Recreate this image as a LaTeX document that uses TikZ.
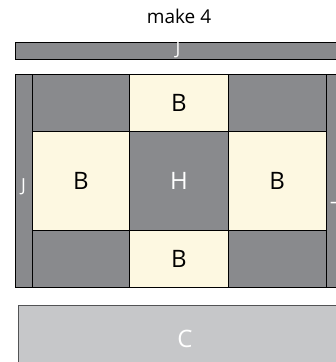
\documentclass[tikz,border=0pt]{standalone}
\usepackage{fontspec}
\setmainfont{Open Sans}
\definecolor{darkcell}{HTML}{898A8D}
\definecolor{lightcell}{HTML}{FDF8E1}
\definecolor{basecell}{HTML}{C6C7C9}
\tikzset{
  cell/.style={draw=black, line width=.8pt, inner sep=0pt, outer sep=0pt},
  dark/.style={cell, fill=darkcell, text=white},
  cream/.style={cell, fill=lightcell, text=black},
  jlabel/.style={text=white, inner sep=0pt, font=\fontsize{18}{21}\selectfont},
}
\begin{document}
\begin{tikzpicture}[x=1pt,y=-1pt, font=\fontsize{24}{28}\selectfont]
\useasboundingbox (0,0) rectangle (336,362);
\clip (0,0) rectangle (336,362);
\node[font=\fontsize{19}{22}\selectfont] (title) at (179,16) {make 4};
\node[dark, minimum width=331pt, minimum height=17pt] (top) at (180.6,50.8) {};
\node[jlabel] (topj) at (178,50) {J};
\node[dark, minimum width=16.7pt, minimum height=212.6pt] (left) at (23.6,181) {};
\node[jlabel] (leftj) at (23.6,187) {J};
\node[dark, minimum width=20pt, minimum height=212.6pt] (right) at (336,181) {};
\node[jlabel, rotate=90] (rightj) at (339,203) {J};
\node[dark, minimum width=97.7pt, minimum height=57pt] (tl) at (80.8,103.2) {};
\node[cream, minimum width=98.6pt, minimum height=57pt] (tm) at (179,103.2) {B};
\node[dark, minimum width=97.7pt, minimum height=57pt] (tr) at (277.1,103.2) {};
\node[cream, minimum width=97.7pt, minimum height=98.3pt] (ml) at (80.8,180.9) {B};
\node[dark, minimum width=98.6pt, minimum height=98.3pt] (mm) at (179,180.9) {H};
\node[cream, minimum width=97.7pt, minimum height=98.3pt] (mr) at (277.1,180.9) {B};
\node[dark, minimum width=97.7pt, minimum height=57.3pt] (bl) at (80.8,258.6) {};
\node[cream, minimum width=98.6pt, minimum height=57.3pt] (bm) at (179,258.6) {B};
\node[dark, minimum width=97.7pt, minimum height=57.3pt] (br) at (277.1,258.6) {};
\node[cell, draw=darkcell!60!black, fill=basecell, minimum width=332pt, minimum height=70pt] (base) at (184,340) {};
\node[text=white] (basec) at (185,339) {C};
\end{tikzpicture}
\end{document}
